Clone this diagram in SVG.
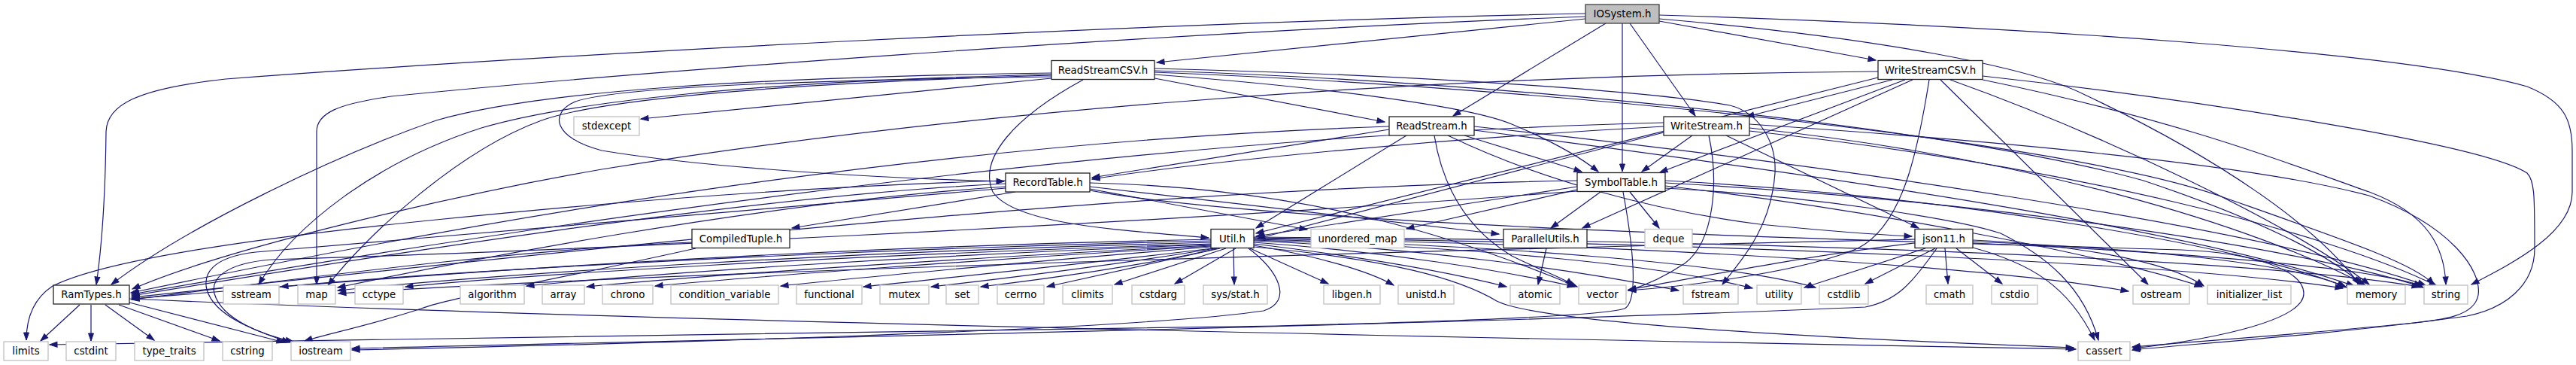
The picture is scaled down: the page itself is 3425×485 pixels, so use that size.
<svg xmlns="http://www.w3.org/2000/svg" width="3425" height="485" viewBox="0 0 3425 485">
<style>
.n rect{fill:#fff;stroke:#222;stroke-width:1.3}
.x rect{fill:#fff;stroke:#c0c0c0;stroke-width:1.3}
.r rect{fill:#bfbfbf;stroke:#404040;stroke-width:1.3}
text{font-family:"DejaVu Sans",sans-serif;font-size:13.33px;text-anchor:middle;fill:#000}
#edges path{fill:none;stroke:#191970;stroke-width:1.2;marker-end:url(#a)}
</style>
<defs>
<marker id="a" markerUnits="userSpaceOnUse" markerWidth="12" markerHeight="9" refX="10" refY="3.5" orient="auto" overflow="visible">
<path d="M0,0 L10,3.5 L0,7 z" fill="#191970" stroke="#191970" stroke-width="1"/>
</marker>
</defs>
<rect width="3425" height="485" fill="#fff"/>
<g id="edges">
<path d="M2108,18 C1500,30 700,75 300,105 C180,118 142,140 141,175 C140,270 135,330 128,378"/>
<path d="M2108,22 C1500,45 800,100 520,128 C450,138 421,150 421,175 L421,378"/>
<path d="M2108,25 L1538,83"/>
<path d="M2135,31 L1932,154"/>
<path d="M2157,31 L2157,228"/>
<path d="M2167,31 L2254,154"/>
<path d="M2206,28 L2494,80"/>
<path d="M2206,25 C2500,50 2700,90 2770,125 C2950,210 3080,300 3137,378"/>
<path d="M2206,20 C2700,35 3200,70 3360,115 C3410,135 3420,160 3420,200 L3420,255 C3420,310 3340,350 3286,378"/>
<path d="M1398,97 C1000,103 720,120 580,160 C450,205 250,300 148,378"/>
<path d="M1398,99 C1000,108 760,135 640,170 C500,215 390,300 344,378"/>
<path d="M1398,100 C1000,112 790,135 720,160 C610,200 490,310 436,379"/>
<path d="M1398,104 L852,158"/>
<path d="M1398,102 C1100,106 820,115 765,135 C730,150 735,183 800,200 C950,225 1200,238 1335,241"/>
<path d="M1440,106 C1350,155 1300,210 1320,255 C1350,300 1500,306 1607,316"/>
<path d="M1535,104 L1841,162"/>
<path d="M1535,99 C1750,115 1950,140 2010,165 C2070,190 2105,212 2125,228"/>
<path d="M1535,91 C1900,100 2200,122 2300,140 C2340,150 2362,190 2360,230 C2355,300 2320,340 2290,378"/>
<path d="M1535,94 C2000,108 2600,170 2850,240 C3000,290 3100,340 3140,378"/>
<path d="M1535,96 C2100,118 2750,190 2950,260 C3120,320 3210,350 3236,378"/>
<path d="M2497,95 C1800,100 1200,160 800,225 C600,260 300,330 176,384"/>
<path d="M2497,103 L1670,310"/>
<path d="M2516,106 L2322,155"/>
<path d="M2533,106 L2207,229"/>
<path d="M2543,106 L2104,303"/>
<path d="M2565,106 C2550,200 2530,300 2470,330 C2400,360 2250,380 2165,386"/>
<path d="M2580,106 L2856,378"/>
<path d="M2593,106 C2800,180 3050,300 3150,378"/>
<path d="M2636,106 C2900,160 3050,220 3150,255 C3230,285 3250,330 3252,378"/>
<path d="M2636,101 C2900,130 3300,190 3360,230 C3370,240 3370,260 3370,330 C3370,380 3330,410 3280,420 C3100,445 2900,458 2835,465"/>
<path d="M1847,168 C1200,190 600,300 174,389"/>
<path d="M1847,172 L1452,236"/>
<path d="M1870,180 L1670,303"/>
<path d="M1947,180 L2103,228"/>
<path d="M1907,180 C1920,260 1960,310 2010,340 C2050,360 2080,370 2092,379"/>
<path d="M1925,180 C2050,240 2200,280 2340,298 C2440,308 2500,312 2542,314"/>
<path d="M1960,173 C2400,230 2900,300 3130,380"/>
<path d="M1960,168 C2400,215 3000,300 3225,379"/>
<path d="M2212,163 C1500,180 700,300 175,391"/>
<path d="M2212,168 C1900,185 1600,215 1452,238"/>
<path d="M2212,176 L1672,317"/>
<path d="M2250,180 L2183,228"/>
<path d="M2272,180 C2285,240 2280,320 2240,350 C2210,370 2185,380 2165,386"/>
<path d="M2295,180 L2551,303"/>
<path d="M2326,170 C2700,210 3000,300 3145,379"/>
<path d="M2326,174 C2750,220 3100,310 3240,380"/>
<path d="M2326,165 C2700,190 3000,220 3150,260 C3260,300 3300,360 3295,392 C3290,420 3250,425 3200,430 C3050,445 2900,455 2835,461"/>
<path d="M1337,244 C1000,260 500,340 175,393"/>
<path d="M1350,255 L1053,303"/>
<path d="M1337,248 C1000,270 600,350 449,382"/>
<path d="M1337,240 C1000,250 700,280 580,292 C400,310 150,340 70,380 C40,400 35,430 35,452"/>
<path d="M1337,250 C1000,280 500,320 340,335 C280,342 270,365 275,385 C285,420 340,440 385,455"/>
<path d="M1449,251 L1738,305"/>
<path d="M1449,248 L1993,311"/>
<path d="M1449,243 C1750,250 1950,320 2097,381"/>
<path d="M1449,253 C1700,300 2500,320 2900,332 C3000,336 3063,360 3063,390 C3063,425 2950,450 2836,463"/>
<path d="M2097,240 C1500,250 800,330 175,395"/>
<path d="M2097,248 L1670,314"/>
<path d="M2128,255 L2062,303"/>
<path d="M2097,252 L1870,304"/>
<path d="M2167,255 L2206,303"/>
<path d="M2158,255 C2170,320 2180,400 2160,410 C2130,420 1900,428 1700,433 C1000,443 300,452 66,458"/>
<path d="M2097,254 C1500,300 700,335 360,345 C300,350 280,370 285,390 C295,425 350,445 390,454"/>
<path d="M2214,240 C2600,260 3000,330 3120,382"/>
<path d="M2214,243 C2700,270 3100,340 3222,382"/>
<path d="M2214,250 C2400,260 2600,290 2660,310 C2720,340 2770,380 2790,452"/>
<path d="M2214,247 C2500,280 2800,340 2928,381"/>
<path d="M1610,318 C1000,330 500,370 175,397"/>
<path d="M1610,320 C1100,332 600,360 373,381"/>
<path d="M1610,322 C1100,335 650,365 449,386"/>
<path d="M1610,324 C1100,340 700,365 539,381"/>
<path d="M1610,325 C1200,340 850,365 700,380"/>
<path d="M1610,326 C1250,345 950,365 780,381"/>
<path d="M1610,327 C1300,345 1000,368 871,380"/>
<path d="M1610,328 C1400,345 1150,368 1038,380"/>
<path d="M1612,330 C1450,350 1250,370 1148,381"/>
<path d="M1615,330 C1500,350 1320,372 1238,381"/>
<path d="M1618,330 C1530,352 1380,372 1304,381"/>
<path d="M1622,330 L1392,381"/>
<path d="M1630,330 L1482,378"/>
<path d="M1643,330 L1562,377"/>
<path d="M1640,330 L1641,378"/>
<path d="M1662,330 L1766,377"/>
<path d="M1667,326 C1750,340 1820,360 1853,379"/>
<path d="M1667,324 C1800,340 1920,360 2003,381"/>
<path d="M1667,322 C1850,335 2000,360 2094,381"/>
<path d="M1667,320 C1900,330 2100,360 2232,386"/>
<path d="M1667,319 C1950,328 2200,350 2330,383"/>
<path d="M1667,318 C2000,326 2300,350 2414,382"/>
<path d="M1667,317 C2200,325 2650,355 2830,387"/>
<path d="M1667,316 C2300,323 2900,350 3115,383"/>
<path d="M1667,315 C2400,320 3000,345 3217,381"/>
<path d="M1667,328 C1850,345 1940,370 1990,400 C2040,425 2300,445 2757,462"/>
<path d="M1660,330 C1700,360 1720,400 1680,413 C1500,440 800,458 468,465"/>
<path d="M2056,330 L2045,378"/>
<path d="M2560,330 L2399,382"/>
<path d="M2573,330 L2480,377"/>
<path d="M2586,330 L2590,377"/>
<path d="M2601,330 L2662,377"/>
<path d="M2623,329 C2700,350 2750,380 2785,452"/>
<path d="M2623,319 C2750,325 2880,345 2930,380"/>
<path d="M2623,321 C2850,330 3050,350 3118,381"/>
<path d="M2623,323 C2900,335 3150,355 3220,380"/>
<path d="M2575,330 C2540,380 2520,400 2480,408 C2000,430 800,455 468,463"/>
<path d="M2546,318 C2000,330 900,360 450,390"/>
<path d="M2546,323 C2400,340 2250,370 2165,385"/>
<path d="M106,405 L54,453"/>
<path d="M121,405 L121,453"/>
<path d="M140,405 L205,452"/>
<path d="M158,405 L292,453"/>
<path d="M172,402 L378,455"/>
<path d="M172,397 C800,425 2000,450 2760,464"/>
<path d="M920,322 C700,330 400,370 175,398"/>
<path d="M925,330 C700,380 600,395 560,410 C500,430 430,445 405,453"/>
</g>
<g id="n-IOSystem" class="r"><rect x="2108" y="6" width="98" height="25"/><text x="2157" y="23">IOSystem.h</text></g>
<g id="n-ReadStreamCSV" class="n"><rect x="1398" y="80.5" width="137" height="25"/><text x="1466.5" y="97.5">ReadStreamCSV.h</text></g>
<g id="n-WriteStreamCSV" class="n"><rect x="2497" y="80.5" width="139" height="25"/><text x="2566.5" y="97.5">WriteStreamCSV.h</text></g>
<g id="n-stdexcept" class="x"><rect x="763" y="155" width="87" height="25"/><text x="806.5" y="172">stdexcept</text></g>
<g id="n-ReadStream" class="n"><rect x="1847" y="155" width="113" height="25"/><text x="1903.5" y="172">ReadStream.h</text></g>
<g id="n-WriteStream" class="n"><rect x="2212" y="155" width="114" height="25"/><text x="2269" y="172">WriteStream.h</text></g>
<g id="n-RecordTable" class="n"><rect x="1337" y="230" width="112" height="25"/><text x="1393" y="247">RecordTable.h</text></g>
<g id="n-SymbolTable" class="n"><rect x="2097" y="229.5" width="117" height="25"/><text x="2155.5" y="246.5">SymbolTable.h</text></g>
<g id="n-CompiledTuple" class="n"><rect x="920" y="304.5" width="130" height="25"/><text x="985" y="321.5">CompiledTuple.h</text></g>
<g id="n-Util" class="n"><rect x="1610" y="304.5" width="57" height="25"/><text x="1638.5" y="321.5">Util.h</text></g>
<g id="n-unordered_map" class="x"><rect x="1743" y="304.5" width="124" height="25"/><text x="1805" y="321.5">unordered_map</text></g>
<g id="n-ParallelUtils" class="n"><rect x="1999" y="304.5" width="111" height="25"/><text x="2054.5" y="321.5">ParallelUtils.h</text></g>
<g id="n-deque" class="x"><rect x="2187" y="304.5" width="63" height="25"/><text x="2218.5" y="321.5">deque</text></g>
<g id="n-json11" class="n"><rect x="2546" y="304.5" width="77" height="25"/><text x="2584.5" y="321.5">json11.h</text></g>
<g id="n-RamTypes" class="n"><rect x="71" y="379" width="101" height="25"/><text x="121.5" y="396">RamTypes.h</text></g>
<g id="n-sstream" class="x"><rect x="297" y="379" width="74" height="25"/><text x="334" y="396">sstream</text></g>
<g id="n-map" class="x"><rect x="396" y="379" width="50" height="25"/><text x="421" y="396">map</text></g>
<g id="n-cctype" class="x"><rect x="472" y="379" width="64" height="25"/><text x="504" y="396">cctype</text></g>
<g id="n-algorithm" class="x"><rect x="612" y="379" width="85" height="25"/><text x="654.5" y="396">algorithm</text></g>
<g id="n-array" class="x"><rect x="721" y="379" width="56" height="25"/><text x="749" y="396">array</text></g>
<g id="n-chrono" class="x"><rect x="801" y="379" width="67" height="25"/><text x="834.5" y="396">chrono</text></g>
<g id="n-condition_variable" class="x"><rect x="892" y="379" width="143" height="25"/><text x="963.5" y="396">condition_variable</text></g>
<g id="n-functional" class="x"><rect x="1059" y="379" width="87" height="25"/><text x="1102.5" y="396">functional</text></g>
<g id="n-mutex" class="x"><rect x="1170" y="379" width="65" height="25"/><text x="1202.5" y="396">mutex</text></g>
<g id="n-set" class="x"><rect x="1258" y="379" width="43" height="25"/><text x="1279.5" y="396">set</text></g>
<g id="n-cerrno" class="x"><rect x="1326" y="379" width="62" height="25"/><text x="1357" y="396">cerrno</text></g>
<g id="n-climits" class="x"><rect x="1413" y="379" width="66" height="25"/><text x="1446" y="396">climits</text></g>
<g id="n-cstdarg" class="x"><rect x="1505" y="379" width="70" height="25"/><text x="1540" y="396">cstdarg</text></g>
<g id="n-sys_stat" class="x"><rect x="1600" y="379" width="85" height="25"/><text x="1642.5" y="396">sys/stat.h</text></g>
<g id="n-libgen" class="x"><rect x="1760" y="379" width="75" height="25"/><text x="1797.5" y="396">libgen.h</text></g>
<g id="n-unistd" class="x"><rect x="1859" y="379" width="74" height="25"/><text x="1896" y="396">unistd.h</text></g>
<g id="n-atomic" class="x"><rect x="2008" y="379" width="66" height="25"/><text x="2041" y="396">atomic</text></g>
<g id="n-vector" class="x"><rect x="2099" y="379" width="63" height="25"/><text x="2130.5" y="396">vector</text></g>
<g id="n-fstream" class="x"><rect x="2238" y="379" width="73" height="25"/><text x="2274.5" y="396">fstream</text></g>
<g id="n-utility" class="x"><rect x="2336" y="379" width="59" height="25"/><text x="2365.5" y="396">utility</text></g>
<g id="n-cstdlib" class="x"><rect x="2419" y="379" width="65" height="25"/><text x="2451.5" y="396">cstdlib</text></g>
<g id="n-cmath" class="x"><rect x="2561" y="379" width="62" height="25"/><text x="2592" y="396">cmath</text></g>
<g id="n-cstdio" class="x"><rect x="2648" y="379" width="61" height="25"/><text x="2678.5" y="396">cstdio</text></g>
<g id="n-ostream" class="x"><rect x="2836" y="379" width="75" height="25"/><text x="2873.5" y="396">ostream</text></g>
<g id="n-initializer_list" class="x"><rect x="2935" y="379" width="111" height="25"/><text x="2990.5" y="396">initializer_list</text></g>
<g id="n-memory" class="x"><rect x="3121" y="379" width="77" height="25"/><text x="3159.5" y="396">memory</text></g>
<g id="n-string" class="x"><rect x="3223" y="379" width="58" height="25"/><text x="3252" y="396">string</text></g>
<g id="n-limits" class="x"><rect x="5" y="454" width="59" height="25"/><text x="34.5" y="471">limits</text></g>
<g id="n-cstdint" class="x"><rect x="88" y="454" width="66" height="25"/><text x="121" y="471">cstdint</text></g>
<g id="n-type_traits" class="x"><rect x="179" y="454" width="92" height="25"/><text x="225" y="471">type_traits</text></g>
<g id="n-cstring" class="x"><rect x="296" y="454" width="66" height="25"/><text x="329" y="471">cstring</text></g>
<g id="n-iostream" class="x"><rect x="387" y="454" width="79" height="25"/><text x="426.5" y="471">iostream</text></g>
<g id="n-cassert" class="x"><rect x="2763" y="454" width="69" height="25"/><text x="2797.5" y="471">cassert</text></g>
</svg>
